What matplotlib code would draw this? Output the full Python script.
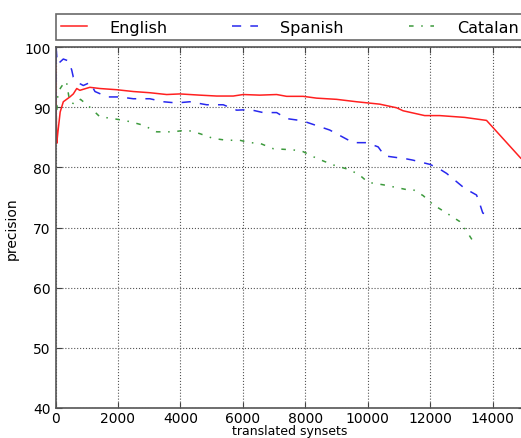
import numpy as np
import matplotlib
matplotlib.use('Agg')
import matplotlib.pyplot as plt

# values
en_x = [0, 5, 20, 40, 80, 150, 250, 460, 570, 680, 780, 1100, 1420, 1960, 2490,
        3020, 3560, 3980, 4620, 5160, 5690, 6010, 6540, 7080, 7400, 7930, 8360,
        9000, 9640, 10380, 10920, 11130, 11820, 12300, 13100, 13800, 14900, 15000]
en_y = [99, 98, 90, 84, 86, 89.2, 90.9, 91.7, 92.2, 93.1, 92.8, 93.3, 93.1, 92.9, 92.6,
        92.4, 92.1, 92.2, 92.0, 91.85, 91.85, 92.1, 92.0, 92.1, 91.8, 91.8, 91.5,
        91.3, 90.9, 90.5, 89.9, 89.4, 88.6, 88.6, 88.3, 87.8, 81.5, 81.2]

es_x = [0, 16, 60, 144, 250, 410, 518, 570, 678, 784, 890, 1104, 1264, 1530, 1640,
        2060, 2490, 3020, 3450, 3880, 4300, 4840, 5370, 5800, 6220, 6650, 7080, 7400,
        7820, 8040, 8780, 9100, 9530, 9960, 10330, 10540, 11240, 11440, 11980, 12240,
        12520, 13100, 13480, 13580, 13680, 13900]
es_y = [88, 100, 97.2, 97.5, 98, 97.7, 96.2, 95, 94.4, 93.9, 93.6, 94.1, 92.6, 92, 91.7,
        91.7, 91.4, 91.4, 90.9, 90.7, 90.9, 90.4, 90.4, 89.5, 89.6, 89.1, 89.1, 88.1,
        87.8, 87.5, 86.2, 85.3, 84.1, 84.1, 83.4, 81.9, 81.4, 81.2, 80.5, 79.9,
        79.0, 76.5, 75.4, 74.0, 72.4, 72.0]

ca_x = [0, 80, 200, 350, 450, 600, 800, 1100, 1420, 1850, 2170, 2380, 2810, 3240,
        3770, 4200, 4620, 5050, 5480, 5900, 6220, 6540, 6970, 7610, 7930, 8360, 8890,
        9420, 9740, 10010, 10490, 11240, 11450, 11770, 12090, 12520, 12940, 13160, 13370]
ca_y = [86, 92.5, 93.5, 94.3, 91, 90.5, 91.3, 90, 88.4, 88.1, 87.8, 87.6, 87, 85.9,
        85.9, 86.2, 85.6, 84.8, 84.5, 84.5, 84.1, 84, 83.1, 82.9, 82.6, 81.5, 80.4,
        79.6, 78.7, 77.5, 77.1, 76.3, 76.3, 75.3, 73.8, 72.4, 71.0, 69.4, 67.7]

plt.rcParams['font.family'] = 'DejaVu Sans'
plt.rcParams['xtick.direction'] = 'in'
plt.rcParams['ytick.direction'] = 'in'

fig = plt.figure(figsize=(5.21, 4.39), dpi=100)
ax = fig.add_axes([55.5/521, 30/439, 468.5/521, 361/439])

ax.plot(en_x, en_y, '-', color='#ff2020', lw=1.1, label='English')
ax.plot(es_x, es_y, '--', color='#2828ee', lw=1.1, dashes=(6, 6), label='Spanish')
ax.plot(ca_x, ca_y, '-.', color='#3c9a3c', lw=1.1, dashes=(3, 5, 1, 5), label='Catalan')

ax.set_xlim(0, 15000)
ax.set_ylim(40, 100)
ax.set_xticks(np.arange(0, 15000, 2000))
ax.set_yticks(np.arange(40, 101, 10))
ax.grid(True, linestyle=':', color='#555555', lw=0.8)
ax.tick_params(labelsize=10, length=4, color='#444444', top=True, right=True)
ax.tick_params(axis='x', pad=2)
for s in ax.spines.values():
    s.set_color('#555555')
    s.set_linewidth(1.2)
ax.set_xlabel('translated synsets', fontsize=9, labelpad=-0.5)
ax.set_ylabel('precision', fontsize=10)

leg = ax.legend(loc='lower left', bbox_to_anchor=(0, 1.019, 1, 0.074), mode='expand',
                ncol=3, fontsize=11.5, borderaxespad=0, fancybox=False,
                handlelength=1.6, borderpad=0.35, handletextpad=1.4)
leg.get_frame().set_edgecolor('#444444')
leg.get_frame().set_linewidth(1.2)

fig.savefig('out.png', dpi=100)
